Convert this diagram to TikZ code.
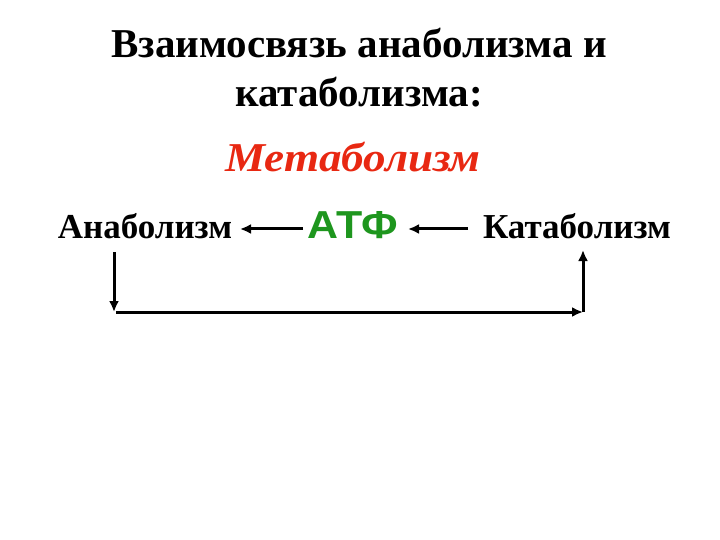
\documentclass[tikz,border=0pt]{standalone}
\usepackage{fontspec}
\usetikzlibrary{arrows.meta}
\setmainfont{Liberation Serif}
\newfontfamily\atfsans{Liberation Sans}
\definecolor{metared}{RGB}{232,40,18}
\definecolor{atfgreen}{RGB}{30,150,30}
\begin{document}
\begin{tikzpicture}[x=1pt,y=-1pt,
  titletext/.style={font=\fontsize{41}{48}\selectfont\bfseries, inner sep=0pt, anchor=base},
  labeltext/.style={font=\fontsize{35}{42}\selectfont\bfseries, inner sep=0pt, anchor=base},
  conn/.style={line width=3pt, -{Latex[length=11pt,width=10pt]}}]
\useasboundingbox (0,0) rectangle (720,540);
\node[titletext] (t1) at (359,58) {Взаимосвязь анаболизма и};
\node[titletext] (t2) at (359,107) {катаболизма:};
\node[titletext, font=\fontsize{41}{48}\selectfont\bfseries\itshape, text=metared] (meta) at (353,172) {\scalebox{1.1}[1]{Метаболизм}};
\node[labeltext] (ana) at (145,239) {Анаболизм};
\node[labeltext, font=\fontsize{39}{46}\selectfont\bfseries\atfsans, text=atfgreen] (atf) at (353,239) {\scalebox{1.1}[1]{АТФ}};
\node[labeltext] (kata) at (577,239) {Катаболизм};
\coordinate (a1) at (303,229);
\coordinate (a2) at (240,229);
\coordinate (b1) at (468,229);
\coordinate (b2) at (408,229);
\coordinate (c1) at (114,252);
\coordinate (c2) at (114,312);
\coordinate (d1) at (116,312);
\coordinate (d2) at (583,312);
\coordinate (e1) at (583,312);
\coordinate (e2) at (583,250);
\draw[conn] (a1) -- (a2);
\draw[conn] (b1) -- (b2);
\draw[conn] (c1) -- (c2);
\draw[conn] (d1) -- (d2);
\draw[conn] (e1) -- (e2);
\end{tikzpicture}
\end{document}
